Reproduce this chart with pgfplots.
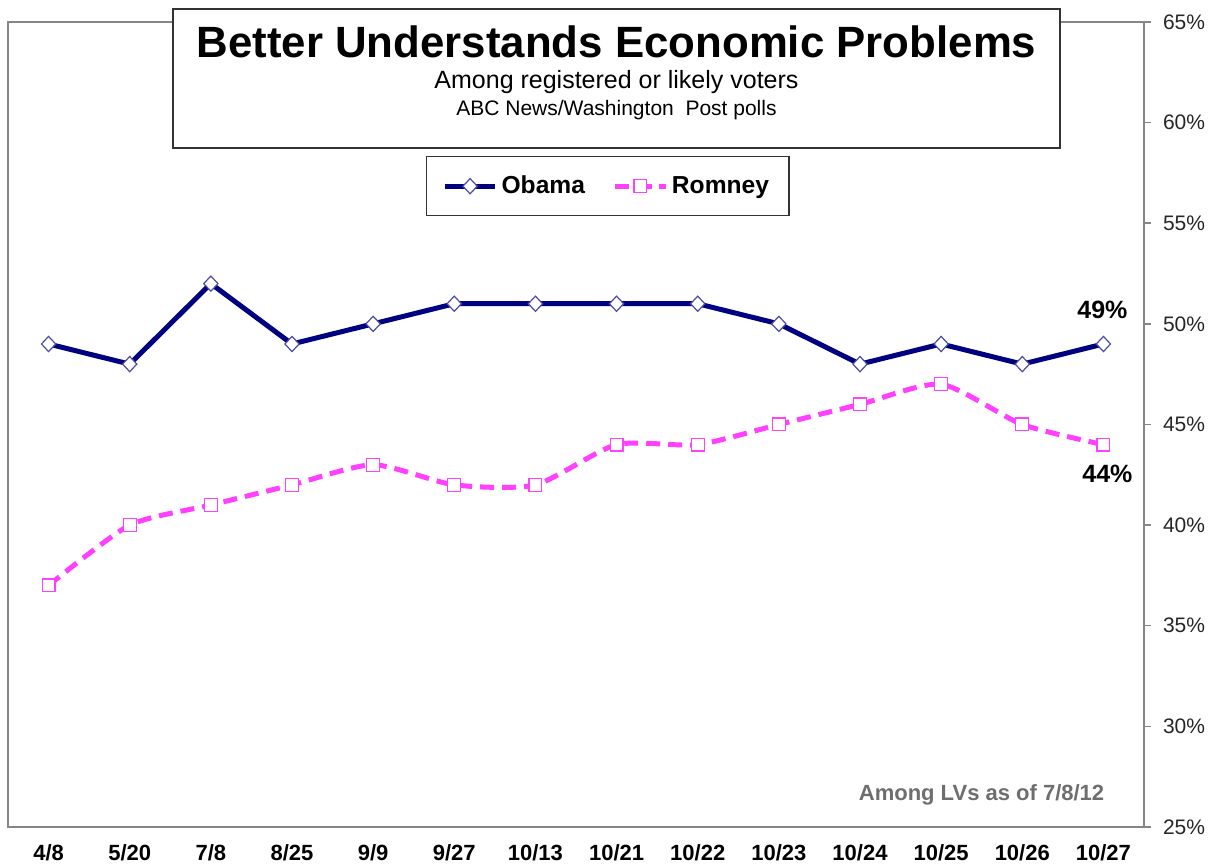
\documentclass[border=0pt]{standalone}
\usepackage{pgfplots}
\pgfplotsset{compat=1.18}
\usepackage{fontspec}
\setmainfont{Liberation Sans}
\definecolor{obama}{RGB}{0,0,128}
\definecolor{romney}{RGB}{255,64,255}
\definecolor{framegray}{RGB}{134,134,134}
\definecolor{notegray}{RGB}{110,110,110}
\begin{document}
\begin{tikzpicture}
\useasboundingbox (0,0) rectangle (608pt,432.5pt);
\begin{axis}[
  at={(4pt,19pt)}, anchor=south west,
  scale only axis, width=568pt, height=402.5pt,
  xmin=-0.5, xmax=13.5, ymin=25, ymax=65,
  axis line style={draw=framegray, line width=0.75pt},
  tick align=outside,
  xtick={0,...,13},
  xticklabels={4/8,5/20,7/8,8/25,9/9,9/27,10/13,10/21,10/22,10/23,10/24,10/25,10/26,10/27},
  xtick style={draw=none},
  minor xtick={-0.5,0.5,...,13.5},
  minor tick length=3.5pt,
  minor tick style={draw=framegray, line width=0.75pt},
  xtick pos=lower,
  xticklabel style={font=\bfseries\fontsize{11}{13}\selectfont, text=black, yshift=-2pt},
  ytick={25,30,...,65},
  yticklabels={25\%,30\%,35\%,40\%,45\%,50\%,55\%,60\%,65\%},
  ytick pos=upper, yticklabel pos=upper,
  major tick length=3.5pt,
  ytick style={draw=framegray, line width=0.75pt},
  yticklabel style={font=\fontsize{10.5}{12}\selectfont, text=black!85, anchor=west, xshift=2.5pt},
  legend columns=2,
  legend style={at={(rel axis cs:0.528,0.796)}, anchor=center,
    draw=black!80, line width=0.6pt, inner xsep=8pt, inner ysep=7.5pt,
    font=\bfseries\fontsize{12.3}{14}\selectfont,
    /tikz/every even column/.append style={column sep=12pt}},
  legend image code/.code={\draw[mark repeat=2,mark phase=2] plot coordinates {(0pt,0pt) (12.5pt,0pt) (25pt,0pt)};},
  clip=false,
]
\addplot[obama, line width=2.5pt, mark=diamond*,
  mark options={solid, fill=white, draw=obama!70, line width=0.6pt, xscale=1.25}, mark size=3.8pt]
  coordinates {(0,49) (1,48) (2,52) (3,49) (4,50) (5,51) (6,51) (7,51) (8,51) (9,50) (10,48) (11,49) (12,48) (13,49)};
\addlegendentry{Obama}
\addplot[romney, line width=2.5pt, dash pattern=on 7pt off 4pt, smooth, tension=0.4, mark=square*,
  mark options={solid, fill=white, draw=romney, line width=0.6pt}, mark size=3.2pt]
  coordinates {(0,37) (1,40) (2,41) (3,42) (4,43) (5,42) (6,42) (7,44) (8,44) (9,45) (10,46) (11,47) (12,45) (13,44)};
\addlegendentry{Romney}
\node[font=\bfseries\fontsize{12.5}{14}\selectfont, anchor=center] at (axis cs:13,49) [xshift=-0.5pt, yshift=17pt] {49\%};
\node[font=\bfseries\fontsize{12.5}{14}\selectfont, anchor=center] at (axis cs:13,44) [xshift=2pt, yshift=-14.5pt] {44\%};
\node[font=\bfseries\fontsize{11}{13}\selectfont, text=notegray, anchor=center] at (rel axis cs:0.857,0.04) {Among LVs as of 7/8/12};
\end{axis}
\node[draw=black!80, line width=0.6pt, fill=white, minimum width=443.5pt, minimum height=69.5pt, anchor=center] at (308.25pt,393.25pt) {};
\node[font=\bfseries\fontsize{21.9}{25}\selectfont, anchor=center] at (308.25pt,411.5pt) {Better Understands Economic Problems};
\node[font=\fontsize{12.5}{14}\selectfont, anchor=center] at (308.25pt,391.5pt) {Among registered or likely voters};
\node[font=\fontsize{10.5}{12}\selectfont, anchor=center] at (308.25pt,377.5pt) {ABC News/Washington\ \ Post polls};
\end{tikzpicture}
\end{document}
